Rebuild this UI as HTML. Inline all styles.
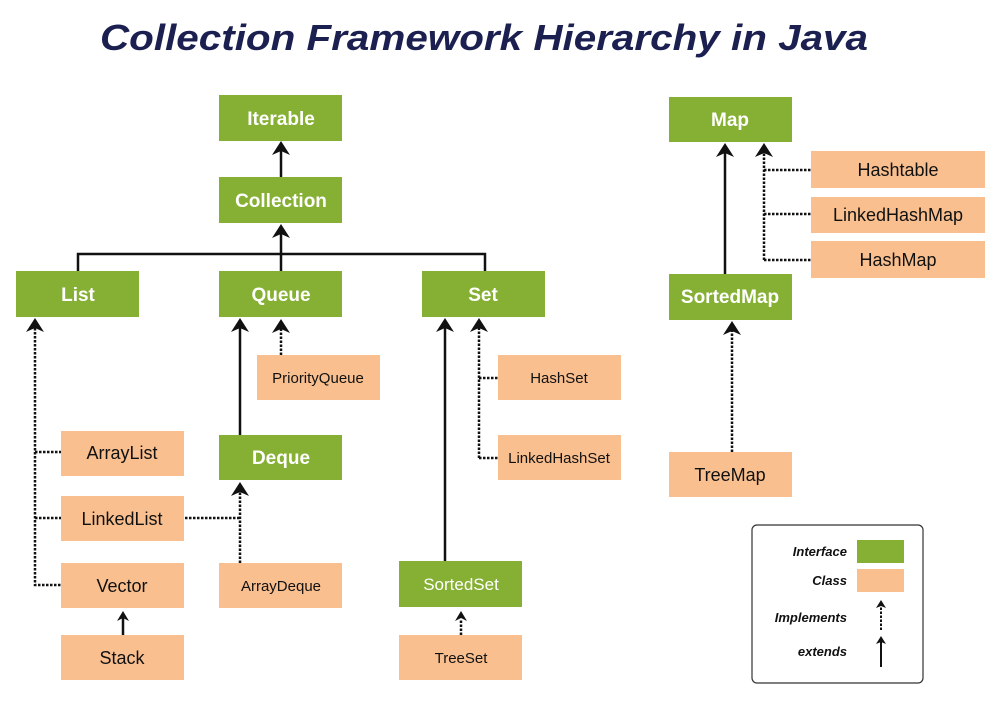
<!DOCTYPE html>
<html><head><meta charset="utf-8"><style>
html,body{margin:0;padding:0;background:#fff;}
svg{display:block;}
text{font-family:"Liberation Sans","DejaVu Sans",sans-serif;}
.g{fill:#86b033;}
.o{fill:#f9bf8f;}
.gt{fill:#fff;font-weight:bold;font-size:19px;text-anchor:middle;}
.ot{fill:#111;font-size:18px;text-anchor:middle;}
.s{stroke:#111;stroke-width:2.5;fill:none;}
.d{stroke:#111;stroke-width:2.5;fill:none;stroke-dasharray:2.5 1.5;}
.lt{font-style:italic;font-weight:bold;font-size:13px;text-anchor:end;fill:#111;}
</style></head><body>
<svg width="998" height="715" viewBox="0 0 998 715" xmlns="http://www.w3.org/2000/svg">
<defs>
<marker id="a" viewBox="0 0 10 10" refX="5" refY="2" markerWidth="7" markerHeight="7" orient="auto-start-reverse" markerUnits="userSpaceOnUse">
</marker>
</defs>
<text x="484" y="50" textLength="768" lengthAdjust="spacingAndGlyphs" style="font-size:36px;font-weight:bold;font-style:italic;fill:#1b2050;text-anchor:middle;">Collection Framework Hierarchy in Java</text>

<!-- connectors -->
<path class="s" d="M281 177 V150"/>
<path class="s" d="M281 271 V232 M78 271 V254 H485 V271"/>
<path class="d" d="M35 320 V585 H61 M35 452 H61 M35 518 H61"/>
<path class="s" d="M240 435 V328"/>
<path class="d" d="M281 355 V328"/>
<path class="d" d="M240 563 V490 M185 518 H240"/>
<path class="s" d="M445 561 V328"/>
<path class="d" d="M479 458 V328 M479 378 H498 M479 458 H498"/>
<path class="s" d="M123 635 V618"/>
<path class="d" d="M461 635 V620"/>
<path class="s" d="M725 274 V150"/>
<path class="d" d="M764 260 V150 M764 170 H811 M764 214 H811 M764 260 H811"/>
<path class="d" d="M732 452 V330"/>

<!-- arrowheads -->
<g fill="#111">
<path d="M281 141 l-9 14 l9-4 l9 4z"/>
<path d="M281 224 l-9 14 l9-4 l9 4z"/>
<path d="M35 318 l-9 14 l9-4 l9 4z"/>
<path d="M240 318 l-9 14 l9-4 l9 4z"/>
<path d="M281 319 l-9 14 l9-4 l9 4z"/>
<path d="M240 482 l-9 14 l9-4 l9 4z"/>
<path d="M445 318 l-9 14 l9-4 l9 4z"/>
<path d="M479 318 l-9 14 l9-4 l9 4z"/>
<path d="M123 611 l-6 10 l6-3 l6 3z"/>
<path d="M461 611 l-6 10 l6-3 l6 3z"/>
<path d="M725 143 l-9 14 l9-4 l9 4z"/>
<path d="M764 143 l-9 14 l9-4 l9 4z"/>
<path d="M732 321 l-9 14 l9-4 l9 4z"/>
</g>

<!-- green boxes -->
<rect class="g" x="219" y="95" width="123" height="46"/><text class="gt" x="281" y="125">Iterable</text>
<rect class="g" x="219" y="177" width="123" height="46"/><text class="gt" x="281" y="207">Collection</text>
<rect class="g" x="16" y="271" width="123" height="46"/><text class="gt" x="78" y="301">List</text>
<rect class="g" x="219" y="271" width="123" height="46"/><text class="gt" x="281" y="301">Queue</text>
<rect class="g" x="422" y="271" width="123" height="46"/><text class="gt" x="483" y="301">Set</text>
<rect class="g" x="219" y="435" width="123" height="45"/><text class="gt" x="281" y="464">Deque</text>
<rect class="g" x="399" y="561" width="123" height="46"/><text class="gt" x="461" y="590" style="font-weight:normal;font-size:17px">SortedSet</text>
<rect class="g" x="669" y="97" width="123" height="45"/><text class="gt" x="730" y="126">Map</text>
<rect class="g" x="669" y="274" width="123" height="46"/><text class="gt" x="730" y="303">SortedMap</text>

<!-- orange boxes -->
<rect class="o" x="257" y="355" width="123" height="45"/><text class="ot" x="318" y="383" style="font-size:15px">PriorityQueue</text>
<rect class="o" x="498" y="355" width="123" height="45"/><text class="ot" x="559" y="383" style="font-size:15px">HashSet</text>
<rect class="o" x="498" y="435" width="123" height="45"/><text class="ot" x="559" y="463" style="font-size:15px">LinkedHashSet</text>
<rect class="o" x="61" y="431" width="123" height="45"/><text class="ot" x="122" y="459">ArrayList</text>
<rect class="o" x="61" y="496" width="123" height="45"/><text class="ot" x="122" y="525">LinkedList</text>
<rect class="o" x="61" y="563" width="123" height="45"/><text class="ot" x="122" y="592">Vector</text>
<rect class="o" x="61" y="635" width="123" height="45"/><text class="ot" x="122" y="664">Stack</text>
<rect class="o" x="219" y="563" width="123" height="45"/><text class="ot" x="281" y="591" style="font-size:15px">ArrayDeque</text>
<rect class="o" x="399" y="635" width="123" height="45"/><text class="ot" x="461" y="663" style="font-size:15px">TreeSet</text>
<rect class="o" x="811" y="151" width="174" height="37"/><text class="ot" x="898" y="176">Hashtable</text>
<rect class="o" x="811" y="197" width="174" height="36"/><text class="ot" x="898" y="221">LinkedHashMap</text>
<rect class="o" x="811" y="241" width="174" height="37"/><text class="ot" x="898" y="266">HashMap</text>
<rect class="o" x="669" y="452" width="123" height="45"/><text class="ot" x="730" y="481">TreeMap</text>

<!-- legend -->
<rect x="752" y="525" width="171" height="158" rx="5" fill="#fff" stroke="#333" stroke-width="1.2"/>
<text class="lt" x="847" y="556">Interface</text>
<rect class="g" x="857" y="540" width="47" height="23"/>
<text class="lt" x="847" y="585">Class</text>
<rect class="o" x="857" y="569" width="47" height="23"/>
<text class="lt" x="847" y="622">Implements</text>
<path class="d" d="M881 630 V604" style="stroke-width:2"/>
<path d="M881 600 l-5 8 l5-2 l5 2z" fill="#111"/>
<text class="lt" x="847" y="656">extends</text>
<path class="s" d="M881 667 V641" style="stroke-width:2"/>
<path d="M881 636 l-5 8 l5-2 l5 2z" fill="#111"/>
</svg>
</body></html>
